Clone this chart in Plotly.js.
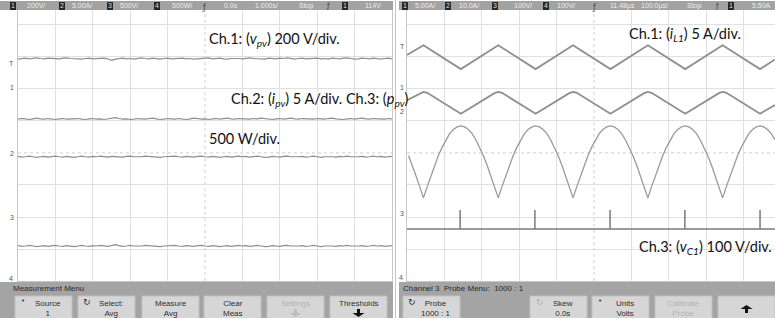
<!DOCTYPE html>
<html><head><meta charset="utf-8">
<script src="https://cdn.plot.ly/plotly-3.0.1.min.js"></script>
<style>html,body{margin:0;padding:0;background:#fff;}#chart{width:775px;height:318px;}</style>
</head><body><div id="chart"></div>
<script>
// ---------- LEFT SCREEN: time base 1.000 s/div, values in divisions ----------
const tLeft = [-5.0,-4.9,-4.8,-4.7,-4.6,-4.5,-4.4,-4.3,-4.2,-4.1,-4.0,-3.9,-3.8,-3.7,-3.6,-3.5,-3.4,-3.3,-3.2,-3.1,-3.0,-2.9,-2.8,-2.7,-2.6,-2.5,-2.4,-2.3,-2.2,-2.1,-2.0,-1.9,-1.8,-1.7,-1.6,-1.5,-1.4,-1.3,-1.2,-1.1,-1.0,-0.9,-0.8,-0.7,-0.6,-0.5,-0.4,-0.3,-0.2,-0.1,0.0,0.1,0.2,0.3,0.4,0.5,0.6,0.7,0.8,0.9,1.0,1.1,1.2,1.3,1.4,1.5,1.6,1.7,1.8,1.9,2.0,2.1,2.2,2.3,2.4,2.5,2.6,2.7,2.8,2.9,3.0,3.1,3.2,3.3,3.4,3.5,3.6,3.7,3.8,3.9,4.0,4.1,4.2,4.3,4.4,4.5,4.6,4.7,4.8,4.9,5.0];
const vpv = [2.92,2.94,2.95,2.93,2.94,2.96,2.94,2.93,2.95,2.94,2.92,2.93,2.95,2.96,2.94,2.93,2.94,2.92,2.94,2.95,2.93,2.94,2.96,2.95,2.93,2.88,2.92,2.94,2.95,2.93,2.94,2.92,2.95,2.96,2.94,2.93,2.95,2.94,2.92,2.94,2.95,2.93,2.94,2.96,2.95,2.93,2.94,2.92,2.93,2.95,2.94,2.96,2.93,2.94,2.95,2.93,2.92,2.94,2.95,2.94,2.93,2.95,2.96,2.94,2.93,2.94,2.92,2.95,2.94,2.93,2.95,2.94,2.96,2.93,2.92,2.94,2.95,2.93,2.94,2.96,2.95,2.93,2.94,2.92,2.95,2.94,2.93,2.95,2.96,2.94,2.92,2.93,2.95,2.94,2.93,2.95,2.94,2.92,2.94,2.95,2.93];
const ipv = [1.05,1.07,1.06,1.04,1.06,1.08,1.06,1.05,1.07,1.05,1.04,1.06,1.07,1.05,1.06,1.08,1.07,1.05,1.04,1.06,1.07,1.05,1.06,1.04,1.06,1.08,1.10,1.07,1.05,1.06,1.04,1.05,1.07,1.06,1.05,1.07,1.08,1.06,1.04,1.05,1.07,1.06,1.05,1.07,1.06,1.04,1.06,1.08,1.07,1.05,1.06,1.04,1.06,1.07,1.05,1.06,1.08,1.06,1.05,1.07,1.06,1.04,1.05,1.07,1.06,1.08,1.06,1.05,1.04,1.06,1.07,1.05,1.06,1.08,1.06,1.05,1.07,1.06,1.04,1.05,1.07,1.06,1.05,1.07,1.08,1.06,1.05,1.04,1.06,1.07,1.05,1.06,1.08,1.06,1.05,1.07,1.06,1.04,1.05,1.07,1.06];
const ppv = [-0.11,-0.13,-0.12,-0.10,-0.12,-0.14,-0.12,-0.11,-0.13,-0.12,-0.10,-0.12,-0.13,-0.11,-0.12,-0.14,-0.12,-0.10,-0.12,-0.13,-0.11,-0.12,-0.10,-0.12,-0.13,-0.11,-0.12,-0.14,-0.13,-0.11,-0.10,-0.12,-0.13,-0.12,-0.10,-0.11,-0.13,-0.12,-0.14,-0.12,-0.11,-0.12,-0.10,-0.12,-0.13,-0.11,-0.12,-0.13,-0.11,-0.10,-0.12,-0.13,-0.11,-0.12,-0.14,-0.12,-0.11,-0.13,-0.12,-0.10,-0.12,-0.11,-0.13,-0.12,-0.10,-0.12,-0.14,-0.13,-0.11,-0.12,-0.13,-0.11,-0.10,-0.12,-0.13,-0.12,-0.11,-0.13,-0.12,-0.10,-0.12,-0.14,-0.12,-0.11,-0.12,-0.13,-0.11,-0.12,-0.10,-0.12,-0.13,-0.12,-0.11,-0.13,-0.12,-0.10,-0.12,-0.11,-0.13,-0.12,-0.11];
const ch4Left = [-2.89,-2.91,-2.90,-2.88,-2.90,-2.92,-2.90,-2.89,-2.91,-2.90,-2.88,-2.90,-2.91,-2.89,-2.90,-2.92,-2.90,-2.88,-2.90,-2.91,-2.89,-2.90,-2.88,-2.90,-2.91,-2.89,-2.86,-2.89,-2.91,-2.90,-2.88,-2.90,-2.91,-2.90,-2.88,-2.89,-2.91,-2.90,-2.92,-2.90,-2.89,-2.90,-2.88,-2.90,-2.91,-2.89,-2.90,-2.91,-2.89,-2.88,-2.90,-2.91,-2.89,-2.90,-2.92,-2.90,-2.89,-2.91,-2.90,-2.88,-2.90,-2.89,-2.91,-2.90,-2.88,-2.90,-2.92,-2.91,-2.89,-2.90,-2.91,-2.89,-2.88,-2.90,-2.91,-2.90,-2.89,-2.91,-2.90,-2.88,-2.90,-2.92,-2.90,-2.89,-2.90,-2.91,-2.89,-2.90,-2.88,-2.90,-2.91,-2.90,-2.89,-2.91,-2.90,-2.88,-2.90,-2.89,-2.91,-2.90,-2.89];

// ---------- RIGHT SCREEN: time base 100 us/div, values in divisions ----------
const tIL1 = [0,44,144,244,344,444,544,644,744,844,944,984];
const iL1  = [3.05,3.35,2.61,3.35,2.61,3.35,2.61,3.35,2.61,3.35,2.61,2.91];
const tCh2 = [0,34,44,54,144,234,244,254,344,434,444,454,544,634,644,654,744,834,844,854,944,984];
const ch2R = [1.64,1.86,1.90,1.87,1.22,1.86,1.90,1.87,1.22,1.86,1.90,1.87,1.22,1.86,1.90,1.87,1.22,1.86,1.90,1.87,1.22,1.49];
const tVC1 = [4,14,24,34,44,54,64,74,84,94,104,114,124,134,144,154,164,174,184,194,204,214,224,234,244,254,264,274,284,294,304,314,324,334,344,354,364,374,384,394,404,414,424,434,444,454,464,474,484,494,504,514,524,534,544,554,564,574,584,594,604,614,624,634,644,654,664,674,684,694,704,714,724,734,744,754,764,774,784,794,804,814,824,834,844,854,864,874,884,894,904,914,924,934,944,954,964,974,984];
const vC1 = [-0.08,-0.38,-0.71,-1.05,-1.40,-1.05,-0.71,-0.38,-0.08,0.18,0.41,0.60,0.73,0.81,0.84,0.81,0.73,0.60,0.41,0.18,-0.08,-0.38,-0.71,-1.05,-1.40,-1.05,-0.71,-0.38,-0.08,0.18,0.41,0.60,0.73,0.81,0.84,0.81,0.73,0.60,0.41,0.18,-0.08,-0.38,-0.71,-1.05,-1.40,-1.05,-0.71,-0.38,-0.08,0.18,0.41,0.60,0.73,0.81,0.84,0.81,0.73,0.60,0.41,0.18,-0.08,-0.38,-0.71,-1.05,-1.40,-1.05,-0.71,-0.38,-0.08,0.18,0.41,0.60,0.73,0.81,0.84,0.81,0.73,0.60,0.41,0.18,-0.08,-0.38,-0.71,-1.05,-1.40,-1.05,-0.71,-0.38,-0.08,0.18,0.41,0.60,0.73,0.81,0.84,0.81,0.73,0.60,0.41];
const tCh4R = [0,142,142,142,342,342,342,543,543,543,743,743,743,944,944,944,984];
const ch4R  = [-2.37,-2.37,-1.78,-2.37,-2.37,-1.78,-2.37,-2.37,-1.78,-2.37,-2.37,-1.78,-2.37,-2.37,-1.78,-2.37,-2.37];

// ---------- texts ----------
const hdrLeft  = [["200V/",25],["5.00A/",70],["500V/",118],["500W/",170],["0.0s",222],["1.000s/",253],["Stop",297],["114V",363]];
const hdrRight = [["5.00A/",413],["10.0A/",457],["100V/",512],["100V/",555],["11.48µs",608],["100.0µs/",639],["Stop",685],["5.50A",750]];
const boxLeft  = [[10,"1"],[59,"2"],[107,"3"],[154,"4"],[342,"1"]];
const boxRight = [[402,"1"],[445,"2"],[492,"3"],[543,"4"],[728,"1"]];
const btnLeft  = [["Source<br>1",15,false,4],["Select:<br>Avg",78,false,4],["Measure<br>Avg",142,false,0],["Clear<br>Meas",204,false,0],["Settings",267,true,0],["Thresholds",330,false,0]];
const btnRight = [["Probe<br>1000 : 1",403,false,4],["Skew<br>0.0s",530,false,4],["Units<br>Volts",592,false,4],["Calibrate<br>Probe",655,true,0],["",718,false,0]];
const labels = [
  ["Ch.1: (<i>v<sub>pv</sub></i>) 200 V/div.",207,40],
  ["Ch.2: (<i>i<sub>pv</sub></i>) 5 A/div. Ch.3: (<i>p<sub>pv</sub></i>)",229,100],
  ["500 W/div.",207,138],
  ["Ch.1: (<i>i<sub>L1</sub></i>) 5 A/div.",627,35],
  ["Ch.3: (<i>v<sub>C1</sub></i>) 100 V/div.",637,247]
];
const markersLeft  = [["T",11,64],["1",12,87],["2",12,153],["3",12,217],["4",11,278]];
const markersRight = [["T",402,47],["1",402,87],["2",402,112],["3",402,213],["4",401,277]];

const W=775,H=318;
const px=x=>x/W, py=y=>1-y/H;
const trCol='#8e8e8e';
const traces=[
  {x:tLeft,y:vpv,xaxis:'x',yaxis:'y',mode:'lines',line:{color:trCol,width:1.2}},
  {x:tLeft,y:ipv,xaxis:'x',yaxis:'y',mode:'lines',line:{color:trCol,width:1.2}},
  {x:tLeft,y:ppv,xaxis:'x',yaxis:'y',mode:'lines',line:{color:trCol,width:1.2}},
  {x:tLeft,y:ch4Left,xaxis:'x',yaxis:'y',mode:'lines',line:{color:trCol,width:1.2}},
  {x:tIL1,y:iL1,xaxis:'x2',yaxis:'y2',mode:'lines',line:{color:trCol,width:1.8}},
  {x:tCh2,y:ch2R,xaxis:'x2',yaxis:'y2',mode:'lines',line:{color:trCol,width:1.8}},
  {x:tVC1,y:vC1,xaxis:'x2',yaxis:'y2',mode:'lines',line:{color:'#9a9a9a',width:1.3}},
  {x:tCh4R,y:ch4R,xaxis:'x2',yaxis:'y2',mode:'lines',line:{color:'#7a7a7a',width:1.5}}
];
const gridC='#e0e0e0';
const shapes=[], ann=[];
function rect(x0,y0,x1,y1,fill,line){shapes.push({type:'rect',xref:'paper',yref:'paper',x0:px(x0),x1:px(x1),y0:py(y1),y1:py(y0),fillcolor:fill,line:line||{width:0},layer:'above'});}
function txt(t,x,y,o){ann.push(Object.assign({text:t,xref:'paper',yref:'paper',x:px(x),y:py(y),xanchor:'left',yanchor:'middle',showarrow:false,font:{family:'Liberation Sans, Arial',size:7,color:'#ececec'}},o||{}));}
// center dashed lines
shapes.push({type:'line',xref:'x',yref:'y domain',x0:0,x1:0,y0:0,y1:1,line:{color:'#cfcfcf',width:1,dash:'dot'},layer:'below'});
shapes.push({type:'line',xref:'x domain',yref:'y',x0:0,x1:1,y0:0,y1:0,line:{color:'#cfcfcf',width:1,dash:'dot'},layer:'below'});
shapes.push({type:'line',xref:'x2',yref:'y2 domain',x0:500,x1:500,y0:0,y1:1,line:{color:'#cfcfcf',width:1,dash:'dot'},layer:'below'});
shapes.push({type:'line',xref:'x2 domain',yref:'y2',x0:0,x1:1,y0:0,y1:0,line:{color:'#cfcfcf',width:1,dash:'dot'},layer:'below'});
// separator
shapes.push({type:'line',xref:'paper',yref:'paper',x0:px(395.5),x1:px(395.5),y0:0,y1:1,line:{color:'#c4c4c4',width:1}});
// headers
rect(0,1,393,10,'#a2a2a2'); rect(399,1,775,10,'#a2a2a2');
hdrLeft.forEach(h=>txt(h[0],h[1],5.5)); hdrRight.forEach(h=>txt(h[0],h[1],5.5));
boxLeft.concat(boxRight).forEach(b=>{rect(b[0],2,b[0]+6,10,'#262626');txt(b[1],b[0]+3,6,{xanchor:'center',font:{family:'Liberation Sans',size:7,color:'#ddd'}});});
[[204,8],[594,8]].forEach(p=>txt('ƒ',p[0],p[1],{xanchor:'center',font:{family:'DejaVu Sans',size:8,color:'#444'}}));
[[328,5.5],[717,5.5]].forEach(p=>txt('ƒ',p[0],p[1],{xanchor:'center',font:{family:'DejaVu Sans',size:7,color:'#333'}}));
// menus
rect(0,282,393,318,'#a4a4a4'); rect(399,282,775,318,'#a4a4a4');
txt('Measurement Menu',11,288,{font:{family:'Liberation Sans',size:8,color:'#2a2a2a'}});
txt('Channel 3  Probe Menu:  1000 : 1',401,288,{font:{family:'Liberation Sans',size:8,color:'#2a2a2a'}});
btnLeft.concat(btnRight).forEach(b=>{
  rect(b[1],296,b[1]+57,320,'#d6d6d6',{color:'#c0c0c0',width:1});
  if(b[0]) ann.push({text:b[0],xref:'paper',yref:'paper',x:px(b[1]+28.5+b[3]),y:py(297),xanchor:'center',yanchor:'top',showarrow:false,font:{family:'Liberation Sans',size:8,color:b[2]?'#b4b4b4':'#2e2e2e'}});
});
txt('•',19,301,{font:{family:'DejaVu Sans',size:7,color:'#333'}});
txt('•',596,301,{font:{family:'DejaVu Sans',size:7,color:'#333'}});
txt('↻',81,302,{font:{family:'DejaVu Sans',size:9,color:'#333'}});
txt('↻',406,302,{font:{family:'DejaVu Sans',size:9,color:'#333'}});
txt('↻',534,302,{font:{family:'DejaVu Sans',size:9,color:'#b0b0b0'}});
function arrow(cx,cy,dir,col){const s=dir; const p=`M ${px(cx-6)} ${py(cy)} L ${px(cx+6)} ${py(cy)} L ${px(cx)} ${py(cy+4*s)} Z M ${px(cx-1.5)} ${py(cy)} L ${px(cx+1.5)} ${py(cy)} L ${px(cx+1.5)} ${py(cy-4*s)} L ${px(cx-1.5)} ${py(cy-4*s)} Z`;shapes.push({type:'path',xref:'paper',yref:'paper',path:p,fillcolor:col,line:{width:0},layer:'above'});}
arrow(358.5,313,1,'#111'); arrow(295.5,313,1,'#bdbdbd'); arrow(746.5,309,-1,'#111');
// labels
labels.forEach(l=>txt(l[0],l[1],l[2],{font:{family:'Lato, Open Sans, sans-serif',size:14.5,color:'#111'}}));
markersLeft.concat(markersRight).forEach(m=>txt(m[0],m[1],m[2],{xanchor:'center',font:{family:'Liberation Sans',size:7,color:'#555'}}));

const ax=(dom,rng,tv)=>({domain:dom,range:rng,tickvals:tv,showticklabels:false,ticks:'',showgrid:true,gridcolor:gridC,gridwidth:1,zeroline:false,showline:true,mirror:true,linecolor:'#c8c8c8',linewidth:1,fixedrange:true});
const yRange=[-3.99,4.45];
const layout={width:W,height:H,margin:{l:0,r:0,t:0,b:0},paper_bgcolor:'#fff',plot_bgcolor:'#fff',showlegend:false,
  xaxis:ax([px(18),px(392)],[-5,5],[-4,-3,-2,-1,1,2,3,4]),
  yaxis:Object.assign(ax([py(281),py(10)],yRange,[-3,-2,-1,1,2,3,4]),{anchor:'x'}),
  xaxis2:Object.assign(ax([px(407),1],[0,984],[100,200,300,400,600,700,800,900]),{anchor:'y2'}),
  yaxis2:Object.assign(ax([py(281),py(10)],yRange,[-3,-2,-1,1,2,3,4]),{anchor:'x2'}),
  shapes:shapes,annotations:ann};
Plotly.newPlot('chart',traces,layout,{staticPlot:true,displayModeBar:false});
</script></body></html>
